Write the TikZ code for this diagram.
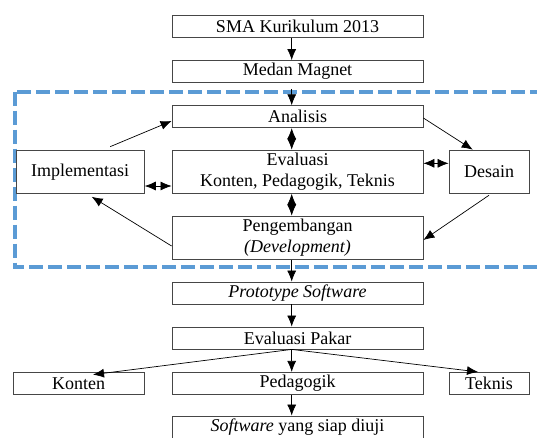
\documentclass[tikz,border=0pt]{standalone}
\usepackage{fontspec}
\setmainfont{Liberation Serif}
\definecolor{framblue}{RGB}{91,155,213}
\definecolor{boxgray}{RGB}{70,70,70}
\usepackage{tikz}
\usetikzlibrary{arrows.meta,positioning,calc}
\newcommand{\diagfont}{\fontsize{18}{21}\selectfont}

\begin{document}
\begin{tikzpicture}[x=1pt,y=-1pt,
  box/.style={draw=boxgray,fill=white,line width=0.8pt,inner sep=0pt,
              minimum width=251pt,minimum height=22pt,
              font=\diagfont,align=center},
  tall/.style={box,minimum height=43.3pt},
  arr/.style={-{Latex[length=11pt,width=9pt]},line width=0.7pt},
  dbl/.style={{Latex[length=11pt,width=9pt]}-{Latex[length=11pt,width=9pt]},line width=0.7pt},
  frame/.style={draw=framblue,line width=4pt,dash pattern=on 14pt off 5pt}
]
  \useasboundingbox (0,0) rectangle (537,437);
  % ADDIE loop frame
  \draw[frame] (14.6,91.5) rectangle (560,266.7);
  \coordinate (ax) at (291.7,0);
  % Top
  \node[box] (sma)   at (297.5,26.7) {SMA Kurikulum 2013};
  \node[box] (medan) at (297.5,71.5) {Medan Magnet};
  % ADDIE
  \node[box] (analisis) at (297.5,116.7) {Analisis};
  \node[tall] (evaluasi) at (297.5,171.7) {Evaluasi\\Konten, Pedagogik, Teknis};
  \node[tall,minimum width=128.3pt] (impl) at (80.2,171.7) {Implementasi};
  \node[tall,minimum width=80pt] (desain) at (489,171.7) {Desain};
  \node[tall] (peng) at (297.5,237.7) {Pengembangan\\\textit{(Development)}};
  % Bottom
  \node[box] (proto) at (297.5,293) {\textit{Prototype Software}};
  \node[box] (pakar) at (297.5,338) {Evaluasi Pakar};
  \node[box,minimum width=131.3pt] (konten) at (78.7,383.3) {Konten};
  \node[box] (pedagogik) at (297.5,383.3) {Pedagogik};
  \node[box,minimum width=80pt] (teknis) at (489,383.3) {Teknis};
  \node[box,minimum height=23pt] (software) at (297.5,427.5) {\textit{Software} yang siap diuji};
  % Arrows
  \draw[arr] (sma.south -| ax) -- (medan.north -| ax);
  \draw[arr,shorten <=6pt] (medan.south -| ax) -- (analisis.north -| ax);
  \draw[dbl] (analisis.south -| ax) -- (evaluasi.north -| ax);
  \draw[dbl] (evaluasi.south -| ax) -- (peng.north -| ax);
  \draw[dbl] ([yshift=-14.3pt]impl.east) -- ([yshift=-14.3pt]evaluasi.west);
  \draw[dbl] ([yshift=8.4pt]evaluasi.east) -- ([yshift=8.4pt]desain.west);
  \draw[arr] ([xshift=30pt,yshift=3pt]impl.north) -- ([yshift=-4.3pt]analisis.west);
  \draw[arr] ([yshift=-1.3pt]analisis.east) -- ([xshift=-16.3pt]desain.north);
  \draw[arr] ([yshift=-1.5pt]desain.south) -- ([yshift=-2.3pt]peng.east);
  \draw[arr] ([yshift=-8.3pt]peng.west) -- ([xshift=11.5pt,yshift=-3pt]impl.south);
  \draw[arr] (peng.south -| ax) -- (proto.north -| ax);
  \draw[arr] (proto.south -| ax) -- (pakar.north -| ax);
  \draw[arr] (pakar.south -| ax) -- ([xshift=14.3pt,yshift=-2.7pt]konten.north);
  \draw[arr] (pakar.south -| ax) -- (pedagogik.north -| ax);
  \draw[arr] (pakar.south -| ax) -- ([xshift=-11pt]teknis.north);
  \draw[arr] (pedagogik.south -| ax) -- (software.north -| ax);
\end{tikzpicture}
\end{document}
